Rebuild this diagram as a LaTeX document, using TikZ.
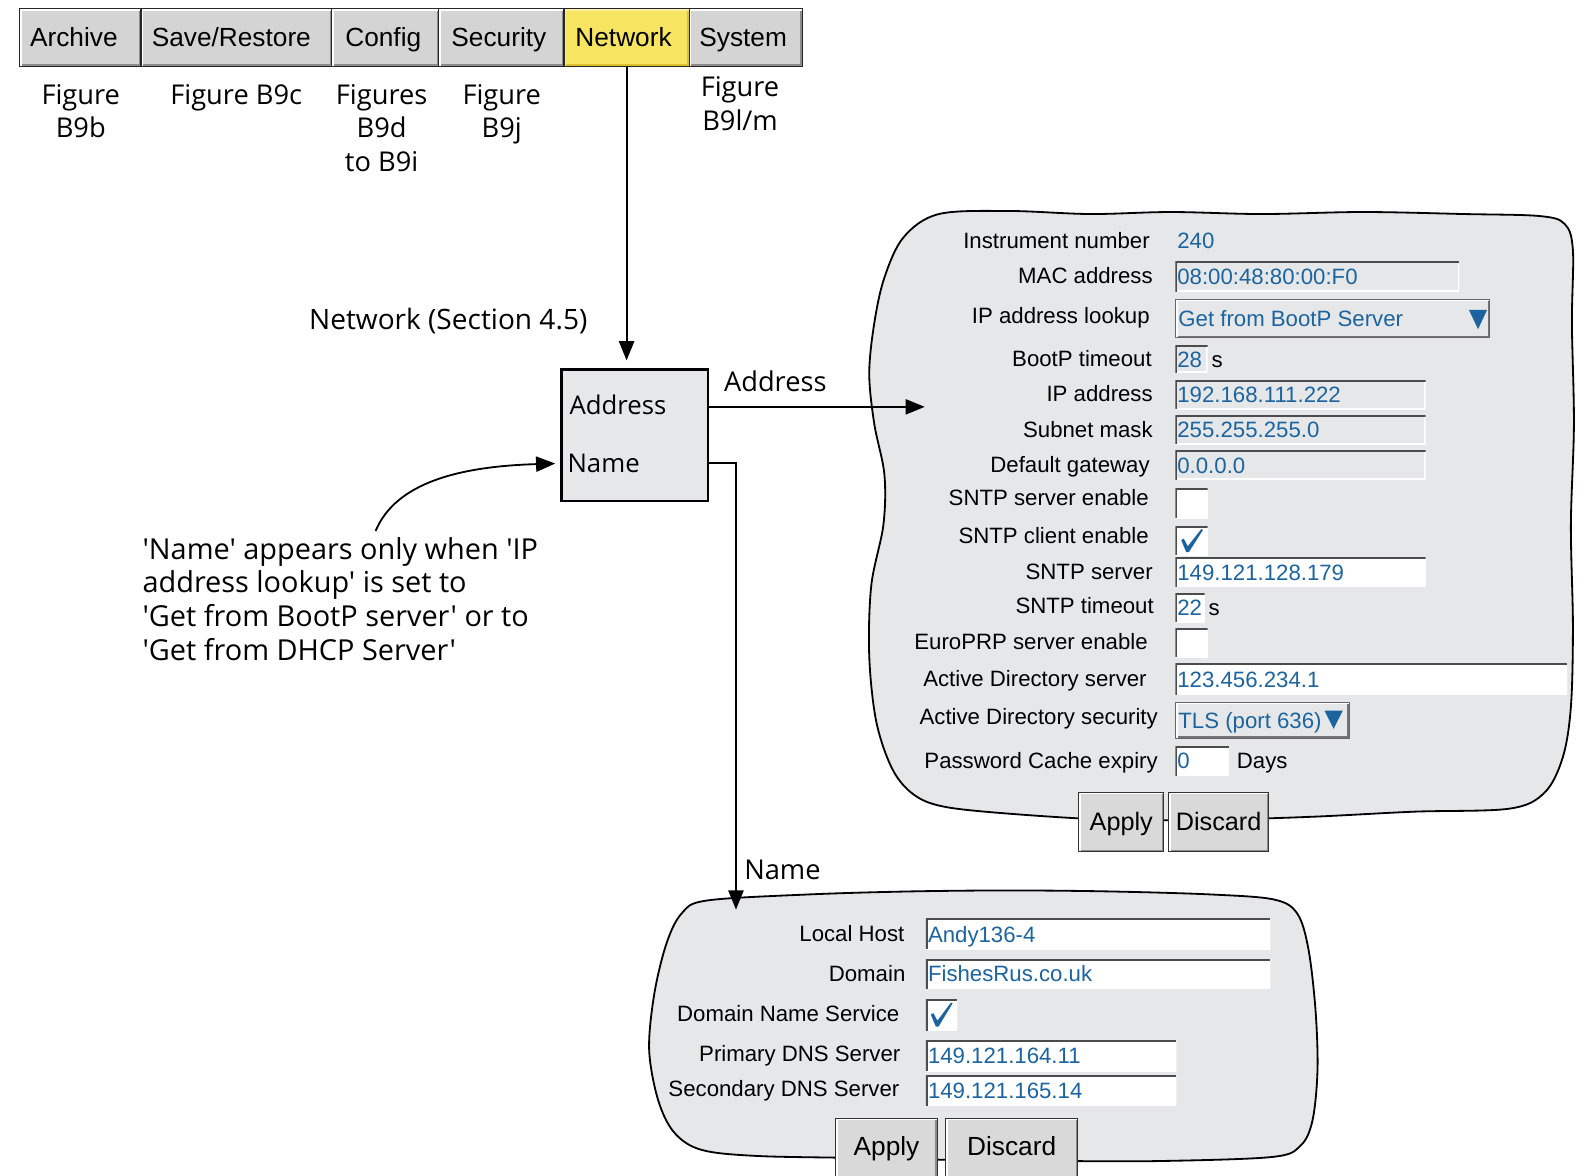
\documentclass[tikz,border=0pt]{standalone}
\usepackage{fontspec}
\setmainfont{Liberation Sans}
\newfontfamily\annotfont{Open Sans}
\usetikzlibrary{arrows.meta}
\definecolor{panelgray}{HTML}{E6E7E8}
\definecolor{tabgray}{HTML}{D4D4D4}
\definecolor{btngray}{HTML}{D9D9D9}
\definecolor{tabyellow}{HTML}{F7E460}
\definecolor{tabyellowdark}{HTML}{D9C22E}
\definecolor{valblue}{HTML}{1C64A0}
\tikzset{
  raised/.style n args={2}{path picture={
    \draw[#2, line width=4pt] (path picture bounding box.north east) -- (path picture bounding box.south east) -- (path picture bounding box.south west);
    \draw[#1, line width=4pt] (path picture bounding box.south west) -- (path picture bounding box.north west) -- (path picture bounding box.north east);}},
  sunken/.style={path picture={
    \draw[white, line width=3pt] (path picture bounding box.north east) -- (path picture bounding box.south east) -- (path picture bounding box.south west);
    \draw[black!70, line width=3pt] (path picture bounding box.south west) -- (path picture bounding box.north west) -- (path picture bounding box.north east);}},
  tabbox/.style={draw=black!85, line width=1.3pt, fill=tabgray, raised={white}{black!45},
    minimum height=57pt, anchor=north west, inner sep=0pt,
    font=\fontsize{26}{30}\selectfont, text height=22pt, text depth=3.4pt},
  btn/.style={draw=black!80, line width=1.2pt, fill=btngray, raised={white}{black!45},
    anchor=north west, inner sep=0pt, text height=20pt, text depth=3pt},
  fld/.style={sunken, anchor=north west, inner sep=0pt},
  gfld/.style={fld, fill=panelgray},
  wfld/.style={fld, fill=white},
  dropbox/.style={draw=black!60, line width=1pt, fill=panelgray, raised={white}{black!55}, anchor=north west, inner sep=0pt},
  lab/.style={font=\fontsize{22}{26}\selectfont, inner sep=0pt, text height=20pt, text depth=4.2pt, anchor=east},
  val/.style={lab, text=valblue, anchor=west},
  annot/.style={font=\annotfont\fontsize{27}{33.5}\selectfont, inner sep=0pt},
  boxlab/.style={font=\annotfont\fontsize{25.5}{30}\selectfont, inner sep=0pt, anchor=west},
  panel/.style={draw=black, line width=1.8pt, fill=panelgray},
  arr/.style={-{Triangle[length=19pt,width=15pt]}, line width=1.8pt},
}
\begin{document}
\begin{tikzpicture}[x=1pt, y=-1pt]
\useasboundingbox (0,0) rectangle (1568,1164);

% ---------- tab bar ----------
\node[tabbox, minimum width=120pt] (tArchive) at (19,8) {Archive\hspace*{13pt}};
\node[tabbox, minimum width=189pt] (tSave) at (139,8) {Save/Restore\hspace*{10pt}};
\node[tabbox, minimum width=106pt] (tConfig) at (328,8) {Config\hspace*{4pt}};
\node[tabbox, minimum width=124pt] (tSecurity) at (434,8) {Security\hspace*{5pt}};
\node[tabbox, minimum width=124pt, fill=tabyellow, raised={tabyellow!60!white}{tabyellowdark}] (tNetwork) at (558,8) {Network\hspace*{6pt}};
\node[tabbox, minimum width=112pt] (tSystem) at (682,8) {System\hspace*{5pt}};

% ---------- figure references ----------
\node[annot, anchor=north, align=center] (fArchive) at (80,83) {Figure\\B9b};
\node[annot, anchor=north, align=center] (fSave) at (234,83) {Figure B9c};
\node[annot, anchor=north, align=center] (fConfig) at (378,83) {Figures\\B9d\\to B9i};
\node[annot, anchor=north, align=center] (fSecurity) at (497,83) {Figure\\B9j};
\node[annot, anchor=north, align=center] (fSystem) at (733,76) {Figure\\B9l/m};

% ---------- panels ----------
\draw[panel] plot[smooth cycle, tension=0.55] coordinates {
 (930,212) (1000,209) (1080,212) (1160,210) (1250,212) (1350,210) (1450,212) (1525,214)
 (1550,222) (1558,248) (1557,320) (1559,420) (1556,520) (1558,620) (1556,700) (1548,750)
 (1530,785) (1495,801) (1400,804) (1300,809) (1200,812) (1100,812) (1000,806) (935,799)
 (905,787) (884,762) (868,715) (861,650) (863,580) (875,520) (876,470) (866,420)
 (861,370) (866,320) (876,275) (895,235)};

\draw[panel] plot[smooth cycle, tension=0.55] coordinates {
 (700,892) (800,886) (900,883) (1000,882) (1100,883) (1200,886) (1262,891) (1285,905)
 (1296,940) (1303,1000) (1305,1060) (1300,1110) (1288,1135) (1260,1146) (1150,1150)
 (1050,1150) (950,1149) (850,1147) (750,1145) (695,1139) (668,1122) (652,1090)
 (643,1040) (648,985) (660,935) (675,905)};

% ---------- central box ----------
\node[draw=black, line width=2.2pt, fill=panelgray, minimum width=145pt, minimum height=130pt, anchor=north west, inner sep=0pt] (nb) at (555,365) {};
\node[boxlab] (adLabel) at (564,401) {Address};
\node[boxlab] (nmLabel) at (562,459) {Name};

\node[annot, anchor=base west, font=\annotfont\fontsize{27.8}{33.5}\selectfont] (netLabel) at (306,326) {Network (Section 4.5)};
\node[annot, anchor=base west] (addrArrLabel) at (717,388) {Address};
\node[annot, anchor=base west] (nameArrLabel) at (737,871) {Name};
\node[annot, anchor=north west, align=left, font=\annotfont\fontsize{28.6}{33.4}\selectfont] (note) at (141,532) {'Name' appears only when 'IP\\address lookup' is set to\\'Get from BootP server' or to\\'Get from DHCP Server'};

\coordinate (addrTip) at (916,403);
\coordinate (nameTip) at (729,901);
\coordinate (noteStart) at (372,526);

\draw[arr, shorten >=8pt] (tNetwork.south) -- (tNetwork.south |- nb.north);
\draw[arr] (addrTip -| nb.east) -- (addrTip);
\draw[arr, line width=1.8pt] (nb.east |- nmLabel) -| (nameTip);
\draw[arr, shorten >=5pt] (noteStart) .. controls (392,478) and (455,462) .. (nb.west |- nmLabel);

% ---------- address panel content ----------
\node[lab] (lInst) at (1139,238) {Instrument number};
\node[lab] (lMac) at (1142,273) {MAC address};
\node[lab] (lLook) at (1139,313) {IP address lookup};
\node[lab] (lBoot) at (1141,355) {BootP timeout};
\node[lab] (lIp) at (1142,390) {IP address};
\node[lab] (lSub) at (1142,425) {Subnet mask};
\node[lab] (lGw) at (1139,460) {Default gateway};
\node[lab] (lSse) at (1138,493) {SNTP server enable};
\node[lab] (lSce) at (1138,530) {SNTP client enable};
\node[lab] (lSs) at (1142,566) {SNTP server};
\node[lab] (lSt) at (1143,600) {SNTP timeout};
\node[lab] (lEu) at (1137,635) {EuroPRP server enable};
\node[lab] (lAds) at (1136,672) {Active Directory server};
\node[lab] (lAdsec) at (1147,710) {Active Directory security};
\node[lab] (lPw) at (1147,753) {Password Cache expiry};

\node[val] (vInst) at (1166,238) {240};

\node[gfld, minimum width=281pt, minimum height=30pt] (fMac) at (1164,259) {};
\node[val] (vMac) at ([xshift=2pt]fMac.west) {08:00:48:80:00:F0};

\node[dropbox, minimum width=311pt, minimum height=38pt] (fLook) at (1164,296) {};
\node[val] (vLook) at ([xshift=3pt]fLook.west) {Get from BootP Server};
\fill[valblue] (1455,307) -- (1473,307) -- (1464,326) -- cycle;

\node[gfld, minimum width=32pt, minimum height=27pt] (fBoot) at (1164,342) {};
\node[val] (vBoot) at ([xshift=2pt]fBoot.west) {28};
\node[lab, anchor=west] (uBoot) at (1200,356) {s};

\node[gfld, minimum width=248pt, minimum height=28pt] (fIp) at (1164,377) {};
\node[val] (vIp) at ([xshift=2pt]fIp.west) {192.168.111.222};
\node[gfld, minimum width=248pt, minimum height=29pt] (fSub) at (1164,411) {};
\node[val] (vSub) at ([xshift=2pt]fSub.west) {255.255.255.0};
\node[gfld, minimum width=248pt, minimum height=29pt] (fGw) at (1164,446) {};
\node[val] (vGw) at ([xshift=2pt]fGw.west) {0.0.0.0};

\node[wfld, minimum width=32pt, minimum height=29pt] (fSse) at (1164,484) {};
\node[wfld, minimum width=32pt, minimum height=29pt] (fSce) at (1164,521) {};
\fill[valblue, shift={(fSce.north west)}] (6,14) -- (8.5,12.5) -- (12.5,20) -- (26,3) -- (27.5,4) -- (13.5,26) -- (11,26) -- cycle;

\node[wfld, minimum width=248pt, minimum height=29pt] (fSs) at (1164,552) {};
\node[val] (vSs) at ([xshift=2pt]fSs.west) {149.121.128.179};

\node[wfld, minimum width=29pt, minimum height=28pt] (fSt) at (1164,588) {};
\node[val] (vSt) at ([xshift=2pt]fSt.west) {22};
\node[lab, anchor=west] (uSt) at (1197,602) {s};

\node[wfld, minimum width=32pt, minimum height=29pt] (fEu) at (1164,622) {};

\node[wfld, minimum width=388pt, minimum height=31pt] (fAds) at (1164,657) {};
\node[val] (vAds) at ([xshift=2pt]fAds.west) {123.456.234.1};

\node[dropbox, minimum width=172pt, minimum height=36pt] (fAdsec) at (1164,695) {};
\node[val] (vAdsec) at ([xshift=3pt]fAdsec.west) {TLS (port 636)};
\fill[valblue] (1312,704) -- (1330,704) -- (1321,722) -- cycle;

\node[wfld, minimum width=53pt, minimum height=29pt] (fPw) at (1164,739) {};
\node[val] (vPw) at ([xshift=2pt]fPw.west) {0};
\node[lab, anchor=west] (uPw) at (1225,753) {Days};

\node[btn, minimum width=84pt, minimum height=59pt, font=\fontsize{25}{30}\selectfont] (bApply1) at (1068,784) {Apply};
\node[btn, minimum width=99pt, minimum height=59pt, font=\fontsize{25}{30}\selectfont] (bDiscard1) at (1157,784) {Discard};

% ---------- name panel content ----------
\node[lab] (lHost) at (896,925) {Local Host};
\node[lab] (lDom) at (897,964) {Domain};
\node[lab] (lDns) at (891,1004) {Domain Name Service};
\node[lab] (lPri) at (892,1044) {Primary DNS Server};
\node[lab] (lSec) at (891,1078) {Secondary DNS Server};

\node[wfld, minimum width=341pt, minimum height=30pt] (fHost) at (917,910) {};
\node[val] (vHost) at ([xshift=2pt]fHost.west) {Andy136-4};
\node[wfld, minimum width=341pt, minimum height=29pt] (fDom) at (917,950) {};
\node[val] (vDom) at ([xshift=2pt]fDom.west) {FishesRus.co.uk};
\node[wfld, minimum width=31pt, minimum height=31pt] (fDns) at (917,990) {};
\fill[valblue, shift={(fDns.north west)}] (5,15) -- (7.5,13.5) -- (11.5,21) -- (25,3) -- (26.5,4) -- (12.5,27) -- (10,27) -- cycle;
\node[wfld, minimum width=248pt, minimum height=31pt] (fPri) at (917,1030) {};
\node[val] (vPri) at ([xshift=2pt]fPri.west) {149.121.164.11};
\node[wfld, minimum width=248pt, minimum height=30pt] (fSec) at (917,1065) {};
\node[val] (vSec) at ([xshift=2pt]fSec.west) {149.121.165.14};

\node[btn, minimum width=101pt, minimum height=60pt, font=\fontsize{26}{30}\selectfont, text depth=6pt] (bApply2) at (827,1107) {Apply};
\node[btn, minimum width=131pt, minimum height=60pt, font=\fontsize{26}{30}\selectfont, text depth=6pt] (bDiscard2) at (936,1107) {Discard};
\end{tikzpicture}
\end{document}
